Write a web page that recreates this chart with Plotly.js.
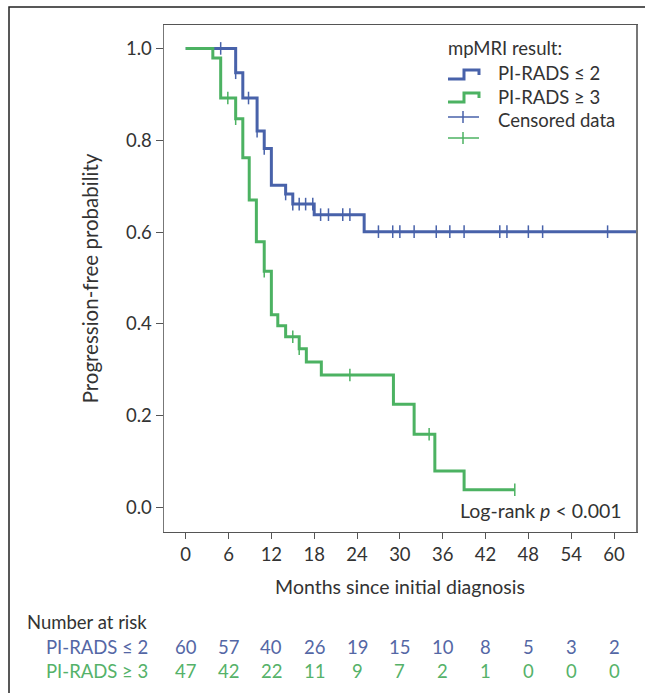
<!DOCTYPE html>
<html>
<head>
<meta charset="utf-8">
<script src="https://cdn.plot.ly/plotly-3.0.1.min.js"></script>
<style>
html,body{margin:0;padding:0;background:#fff;}
#chart{width:645px;height:693px;}
</style>
</head>
<body>
<div id="chart"></div>
<script>
// ---- Data ----
const blueName = 'PI-RADS ≤ 2';
const greenName = 'PI-RADS ≥ 3';
const blueTimes = [0, 7.0, 8.0, 10.0, 11.0, 12.0, 14.0, 15.0, 18.0, 25.0, 64];
const blueSurv  = [1.0, 0.947, 0.892, 0.820, 0.782, 0.702, 0.683, 0.661, 0.638, 0.601, 0.601];
const blueCensor = [4.9, 7.0, 8.8, 10.0, 11.0, 14.0, 15.0, 15.9, 16.8, 17.8, 18.9, 20.0, 22.0, 23.0,
                    27.0, 29.0, 30.0, 32.0, 35.1, 37.0, 39.0, 44.0, 45.0, 48.0, 50.0, 59.1];
const greenTimes = [0, 3.8, 4.9, 7.0, 8.0, 8.9, 9.9, 11.0, 12.0, 12.9, 14.0, 15.9, 16.9, 19.0, 29.1, 32.0, 34.9, 39.0, 46.1];
const greenSurv  = [1.0, 0.979, 0.892, 0.847, 0.762, 0.670, 0.579, 0.515, 0.420, 0.396, 0.372, 0.346, 0.317, 0.289, 0.225, 0.160, 0.080, 0.039, 0.039];
const greenCensor = [5.9, 7.0, 11.0, 15.0, 15.9, 23.0, 34.1, 46.1];
const riskTimes = [0, 6, 12, 18, 24, 30, 36, 42, 48, 54, 60];
const blueRisk  = [60, 57, 40, 26, 19, 15, 10, 8, 5, 3, 2];
const greenRisk = [47, 42, 22, 11, 9, 7, 2, 1, 0, 0, 0];
const yTicks = [0, 0.2, 0.4, 0.6, 0.8, 1.0];

// ---- Styling ----
const BLUE = '#4862aa', GREEN = '#4cb262';
const BLUE_TXT = '#5467a5', GREEN_TXT = '#55b269';
const FONT = 'Lato, "Open Sans", sans-serif';
const TXT = '#333333';
const FS = 18.5;
const W = 645, H = 693, ML = 164, MR = 9, MT = 25, MB = 161;
const PW = W - ML - MR, PH = H - MT - MB;
const px = x => (x - ML) / PW;          // pixel -> paper x
const py = y => (H - MB - y) / PH;      // pixel -> paper y

function survAt(times, surv, t) {
  let s = surv[0];
  for (let i = 0; i < times.length; i++) if (times[i] <= t + 1e-9) s = surv[i];
  return s;
}

const traces = [
  {x: blueTimes, y: blueSurv, mode: 'lines', line: {shape: 'hv', color: BLUE, width: 3}, name: blueName, hoverinfo: 'skip'},
  {x: blueCensor, y: blueCensor.map(t => survAt(blueTimes, blueSurv, t)), mode: 'markers',
   marker: {symbol: 'line-ns', size: 9, line: {color: BLUE, width: 1.5}}, name: 'Censored', hoverinfo: 'skip'},
  {x: greenTimes, y: greenSurv, mode: 'lines', line: {shape: 'hv', color: GREEN, width: 3}, name: greenName, hoverinfo: 'skip'},
  {x: greenCensor, y: greenCensor.map(t => survAt(greenTimes, greenSurv, t)), mode: 'markers',
   marker: {symbol: 'line-ns', size: 9, line: {color: GREEN, width: 1.5}}, name: 'Censored', hoverinfo: 'skip'}
];

const annotations = [];
// risk table
annotations.push({xref: 'paper', yref: 'paper', x: px(25), y: py(622), xanchor: 'left', yanchor: 'middle',
  text: 'Number at risk', showarrow: false, font: {family: FONT, size: FS, color: TXT}});
annotations.push({xref: 'paper', yref: 'paper', x: px(150), y: py(647), xanchor: 'right', yanchor: 'middle',
  text: blueName, showarrow: false, font: {family: FONT, size: FS, color: BLUE_TXT}});
annotations.push({xref: 'paper', yref: 'paper', x: px(150), y: py(671), xanchor: 'right', yanchor: 'middle',
  text: greenName, showarrow: false, font: {family: FONT, size: FS, color: GREEN_TXT}});
riskTimes.forEach((t, i) => {
  annotations.push({xref: 'x', yref: 'paper', x: t, y: py(647), xanchor: 'center', yanchor: 'middle',
    text: String(blueRisk[i]), showarrow: false, font: {family: FONT, size: FS, color: BLUE_TXT}});
  annotations.push({xref: 'x', yref: 'paper', x: t, y: py(671), xanchor: 'center', yanchor: 'middle',
    text: String(greenRisk[i]), showarrow: false, font: {family: FONT, size: FS, color: GREEN_TXT}});
});
// log-rank
annotations.push({xref: 'paper', yref: 'paper', x: px(624), y: py(510), xanchor: 'right', yanchor: 'middle',
  text: 'Log-rank <i>p</i> < 0.001', showarrow: false, font: {family: FONT, size: 19.5, color: TXT}});
// legend texts
annotations.push({xref: 'paper', yref: 'paper', x: px(446), y: py(48), xanchor: 'left', yanchor: 'middle',
  text: 'mpMRI result:', showarrow: false, font: {family: FONT, size: FS, color: TXT}});
annotations.push({xref: 'paper', yref: 'paper', x: px(496), y: py(73), xanchor: 'left', yanchor: 'middle',
  text: blueName, showarrow: false, font: {family: FONT, size: FS, color: TXT}});
annotations.push({xref: 'paper', yref: 'paper', x: px(496), y: py(97), xanchor: 'left', yanchor: 'middle',
  text: greenName, showarrow: false, font: {family: FONT, size: FS, color: TXT}});
annotations.push({xref: 'paper', yref: 'paper', x: px(496), y: py(120), xanchor: 'left', yanchor: 'middle',
  text: 'Censored data', showarrow: false, font: {family: FONT, size: FS, color: TXT}});

function stepIcon(yLow, color) {
  const pts = [[448, yLow], [464, yLow], [464, yLow - 9], [479, yLow - 9], [479, yLow - 4]];
  const path = pts.map((p, i) => (i ? 'L' : 'M') + px(p[0]).toFixed(5) + ',' + py(p[1]).toFixed(5)).join(' ');
  return {type: 'path', xref: 'paper', yref: 'paper', path: path, line: {color: color, width: 3}};
}
function crossIcon(yc, color) {
  return [
    {type: 'line', xref: 'paper', yref: 'paper', x0: px(448), x1: px(479), y0: py(yc), y1: py(yc), line: {color: color, width: 1.5}},
    {type: 'line', xref: 'paper', yref: 'paper', x0: px(463), x1: px(463), y0: py(yc - 6), y1: py(yc + 6), line: {color: color, width: 1.5}}
  ];
}

const shapes = [
  // outer figure frame
  {type: 'rect', xref: 'paper', yref: 'paper', x0: px(9), x1: px(660), y0: py(7), y1: py(710),
   line: {color: '#222', width: 1.5}, fillcolor: 'rgba(0,0,0,0)', layer: 'below'},
  stepIcon(79, BLUE),
  stepIcon(102, GREEN),
  ...crossIcon(117, BLUE),
  ...crossIcon(138, GREEN)
];

const layout = {
  width: W, height: H,
  margin: {l: ML, r: MR, t: MT, b: MB, pad: 0},
  paper_bgcolor: '#fff', plot_bgcolor: '#fff',
  showlegend: false,
  font: {family: FONT, size: FS, color: TXT},
  xaxis: {
    range: [-3.04, 63.08], tickvals: riskTimes, ticktext: riskTimes.map(String),
    ticks: 'outside', ticklen: 6, tickcolor: '#555', tickwidth: 1,
    showline: true, linecolor: '#555', linewidth: 1, mirror: true,
    showgrid: false, zeroline: false,
    tickfont: {family: FONT, size: FS, color: TXT},
    title: {text: 'Months since initial diagnosis', font: {family: FONT, size: 19.5, color: TXT}, standoff: 16}
  },
  yaxis: {
    range: [-0.053, 1.051], tickvals: yTicks, tickformat: '.1f',
    ticks: 'outside', ticklen: 7, tickcolor: '#555', tickwidth: 1,
    showline: true, linecolor: '#777', linewidth: 1.5, mirror: true,
    showgrid: false, zeroline: false,
    tickfont: {family: FONT, size: FS, color: TXT},
    title: {text: 'Progression-free probability', font: {family: FONT, size: 20.5, color: TXT}, standoff: 22}
  },
  annotations: annotations,
  shapes: shapes
};

Plotly.newPlot('chart', traces, layout, {displayModeBar: false, staticPlot: true});
</script>
</body>
</html>
